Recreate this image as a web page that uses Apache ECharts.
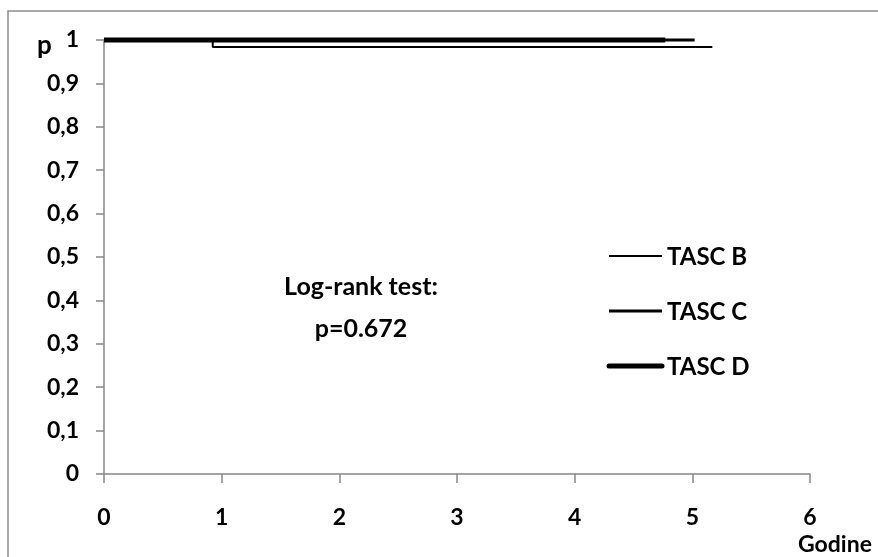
<!DOCTYPE html>
<html>
<head>
<meta charset="utf-8">
<script src="https://cdn.jsdelivr.net/npm/echarts@6/dist/echarts.min.js"></script>
<style>
html,body{margin:0;padding:0;background:#fff;}
#c{width:878px;height:557px;}
</style>
</head>
<body>
<div id="c"></div>
<script>
// Kaplan-Meier step data (years, survival probability)
const timesB = [0, 0.924, 5.17];
const survB  = [1, 0.984, 0.984];
const timesC = [0, 5.02];
const survC  = [1, 1];
const timesD = [0, 4.77];
const survD  = [1, 1];
const seriesNames = ['TASC B', 'TASC C', 'TASC D'];
const xTicks = [0, 1, 2, 3, 4, 5, 6];
const yTicks = [0, 0.1, 0.2, 0.3, 0.4, 0.5, 0.6, 0.7, 0.8, 0.9, 1];
const annotation = ['Log-rank test:', 'p=0.672'];

const FONT = 'Lato';
const pts = (t, s) => t.map((v, i) => [v, s[i]]);
const axisGray = '#868686';

const chart = echarts.init(document.getElementById('c'), null, {renderer: 'canvas'});
const lineWidths = [2, 3, 5];
const legendY = [256, 311, 366];

const graphics = [
  {type: 'rect', shape: {x: 8, y: 11, width: 900, height: 600},
   style: {fill: 'none', stroke: '#8c8c8c', lineWidth: 1.5}, z: -1},
  {type: 'text', left: 37, top: 33,
   style: {text: 'p', font: 'bold 26px ' + FONT, fill: '#000'}},
  {type: 'text', left: 798, top: 533,
   style: {text: 'Godine', font: 'bold 23px ' + FONT, fill: '#000'}},
  {type: 'text', x: 361, y: 287,
   style: {text: annotation[0], font: 'bold 25px ' + FONT, fill: '#000', align: 'center', verticalAlign: 'middle'}},
  {type: 'text', x: 361, y: 329,
   style: {text: annotation[1], font: 'bold 25px ' + FONT, fill: '#000', align: 'center', verticalAlign: 'middle'}}
];
seriesNames.forEach((n, i) => {
  graphics.push({type: 'line', shape: {x1: 609, y1: legendY[i], x2: 662, y2: legendY[i]},
    style: {stroke: '#000', lineWidth: lineWidths[i], lineCap: i === 2 ? 'round' : 'butt'}});
  graphics.push({type: 'text', x: 667, y: legendY[i] + 1,
    style: {text: n, font: 'bold 24px ' + FONT, fill: '#000', verticalAlign: 'middle'}});
});

chart.setOption({
  animation: false,
  backgroundColor: '#fff',
  grid: {left: 104, right: 878 - 810, top: 40, bottom: 557 - 474, containLabel: false},
  xAxis: {
    type: 'value', min: 0, max: 6, interval: 1,
    axisLine: {lineStyle: {color: axisGray, width: 1.5}},
    axisTick: {show: true, length: 9, lineStyle: {color: axisGray, width: 1.5}},
    axisLabel: {margin: 32, color: '#000', fontFamily: FONT, fontWeight: 'bold', fontSize: 23,
      formatter: v => xTicks.includes(v) ? String(v) : ''},
    splitLine: {show: false}
  },
  yAxis: {
    type: 'value', min: 0, max: 1, interval: 0.1,
    axisLine: {show: true, lineStyle: {color: axisGray, width: 1.5}},
    axisTick: {show: true, length: 8, lineStyle: {color: axisGray, width: 1.5}},
    axisLabel: {margin: 25, color: '#000', fontFamily: FONT, fontWeight: 'bold', fontSize: 23,
      formatter: v => {
        const t = yTicks.find(y => Math.abs(y - v) < 1e-9);
        return t === undefined ? '' : String(Math.round(t * 10) / 10).replace('.', ',');
      }},
    splitLine: {show: false}
  },
  series: [
    {name: seriesNames[0], type: 'line', step: 'end', data: pts(timesB, survB), showSymbol: false,
     clip: false, lineStyle: {color: '#000', width: lineWidths[0]}, z: 2},
    {name: seriesNames[1], type: 'line', step: 'end', data: pts(timesC, survC), showSymbol: false,
     clip: false, lineStyle: {color: '#000', width: lineWidths[1]}, z: 3},
    {name: seriesNames[2], type: 'line', step: 'end', data: pts(timesD, survD), showSymbol: false,
     clip: false, lineStyle: {color: '#000', width: lineWidths[2]}, z: 4}
  ],
  graphic: graphics
});
</script>
</body>
</html>
